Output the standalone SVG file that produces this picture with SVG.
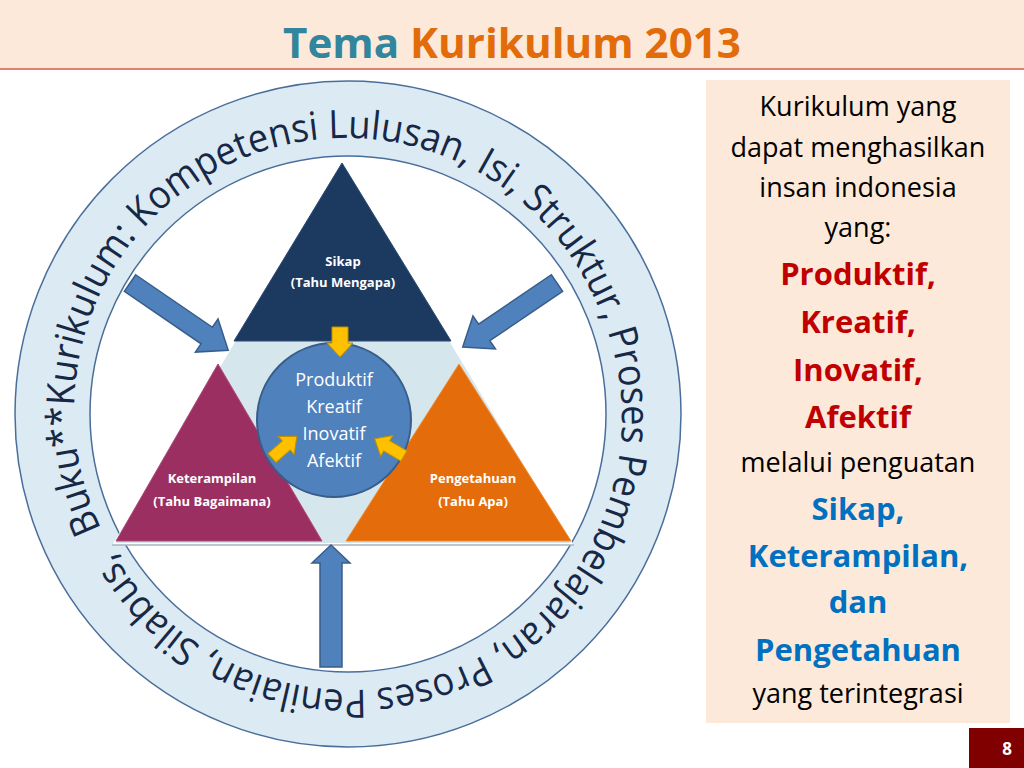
<svg xmlns="http://www.w3.org/2000/svg" width="1024" height="768" viewBox="0 0 1024 768">
<defs>
<style>
.sans{font-family:"Open Sans","Liberation Sans",sans-serif;}
.ring-text{font-family:"Open Sans","Liberation Sans",sans-serif;font-size:39px;fill:#172846;}
.tri-label{font-family:"Open Sans","Liberation Sans",sans-serif;font-size:13px;font-weight:bold;fill:#ffffff;text-anchor:middle;}
.circ-label{font-family:"Open Sans","Liberation Sans",sans-serif;font-size:18px;fill:#ffffff;text-anchor:middle;}
.panel{font-family:"Open Sans","Liberation Sans",sans-serif;text-anchor:middle;}
.pn{font-size:27px;fill:#000000;}
.pr{font-size:31px;font-weight:bold;fill:#c00000;}
.pb{font-size:31px;font-weight:bold;fill:#0070c0;}
.blue-arrow{fill:#4f81bd;stroke:#385d8a;stroke-width:1.5;stroke-linejoin:miter;}
.yellow-arrow{fill:#ffc000;stroke:#bf9000;stroke-width:1;}
</style>
<path id="ringPath" d="M 101.5 528.9 A 272 272 0 1 1 594.5 299.1 A 272 272 0 1 1 101.5 528.9"/>
</defs>
<rect x="0" y="0" width="1024" height="768" fill="#ffffff"/>
<g id="title">
<rect x="0" y="0" width="1024" height="68" fill="#fde9d9"/>
<line x1="0" y1="69" x2="1024" y2="69" stroke="#de8072" stroke-width="2"/>
<text x="512" y="58" class="sans" font-size="41" font-weight="bold" text-anchor="middle" textLength="458" lengthAdjust="spacingAndGlyphs"><tspan fill="#31859c">Tema </tspan><tspan fill="#e36c0a">Kurikulum 2013</tspan></text>
</g>
<g id="ring">
<circle cx="348" cy="414" r="333" fill="#dbeaf3" stroke="#4a6e9a" stroke-width="1.5"/>
<circle cx="348" cy="414" r="258" fill="#ffffff" stroke="#4a6e9a" stroke-width="1.5"/>
<text class="ring-text"><textPath href="#ringPath" textLength="1700" lengthAdjust="spacingAndGlyphs">Buku**Kurikulum: Kompetensi Lulusan, Isi, Struktur, Proses Pembelajaran, Proses Penilaian, Silabus, </textPath></text>
</g>
<g id="triangle-base">
<polygon points="342,160 114,544 572,544" fill="#d5e6ed" stroke="#ffffff" stroke-width="2"/>
<line x1="112" y1="545" x2="574" y2="545" stroke="#a8b4bc" stroke-width="1.5"/>
</g>
<g id="sikap">
<polygon points="342,163 234,341 451,341" fill="#1c3a60" stroke="#2a4a72" stroke-width="1"/>
<text x="343" y="266" class="tri-label">Sikap</text>
<text x="343" y="287" class="tri-label">(Tahu Mengapa)</text>
</g>
<g id="keterampilan">
<polygon points="218,364 116,541 322,541" fill="#9b2f62" stroke="#b04a7a" stroke-width="1"/>
<text x="212" y="483" class="tri-label">Keterampilan</text>
<text x="212" y="506" class="tri-label">(Tahu Bagaimana)</text>
</g>
<g id="pengetahuan">
<polygon points="459,364 346,541 571,541" fill="#e46c0a" stroke="#f08a30" stroke-width="1"/>
<text x="473" y="483" class="tri-label">Pengetahuan</text>
<text x="473" y="506" class="tri-label">(Tahu Apa)</text>
</g>
<g id="core">
<circle cx="334" cy="420" r="77" fill="#4f81bd" stroke="#385d8a" stroke-width="2"/>
<text x="334" y="386" class="circ-label">Produktif</text>
<text x="334" y="413" class="circ-label">Kreatif</text>
<text x="334" y="440" class="circ-label">Inovatif</text>
<text x="334" y="467" class="circ-label">Afektif</text>
</g>
<g id="connectors">
<polygon class="blue-arrow" points="0,-10 93,-10 93,-20 119,0 93,20 93,10 0,10" transform="translate(130,283) rotate(34.4)"/>
<polygon class="blue-arrow" points="0,-10 88,-10 88,-20 114,0 88,20 88,10 0,10" transform="translate(557,283) rotate(145.8)"/>
<polygon class="blue-arrow" points="320,667 320,563 312,563 331,545 350,563 342,563 342,667"/>
<polygon class="yellow-arrow" points="332,327 348,327 348,343 353,343 340,357 327,343 332,343"/>
<polygon class="yellow-arrow" points="0,-6 19,-6 19,-12 33,0 19,12 19,6 0,6" transform="translate(272,458) rotate(-41.3)"/>
<polygon class="yellow-arrow" points="0,-6 20,-6 20,-12 34,0 20,12 20,6 0,6" transform="translate(404,456) rotate(-149.6)"/>
</g>
<g id="panel">
<rect x="706" y="80" width="304" height="643" fill="#fde9d9"/>
<text x="858" y="116" class="panel pn">Kurikulum yang</text>
<text x="858" y="157" class="panel pn">dapat menghasilkan</text>
<text x="858" y="197" class="panel pn">insan indonesia</text>
<text x="858" y="237" class="panel pn">yang:</text>
<text x="858" y="285" class="panel pr">Produktif,</text>
<text x="858" y="333" class="panel pr">Kreatif,</text>
<text x="858" y="381" class="panel pr">Inovatif,</text>
<text x="858" y="428" class="panel pr">Afektif</text>
<text x="858" y="472" class="panel pn">melalui penguatan</text>
<text x="858" y="520" class="panel pb">Sikap,</text>
<text x="858" y="567" class="panel pb">Keterampilan,</text>
<text x="858" y="613" class="panel pb">dan</text>
<text x="858" y="661" class="panel pb">Pengetahuan</text>
<text x="858" y="703" class="panel pn">yang terintegrasi</text>
</g>
<g id="page-number">
<rect x="969" y="728" width="55" height="40" fill="#800000"/>
<text x="1007" y="755" class="sans" font-size="17" font-weight="bold" fill="#ffffff" text-anchor="middle">8</text>
</g>
</svg>
